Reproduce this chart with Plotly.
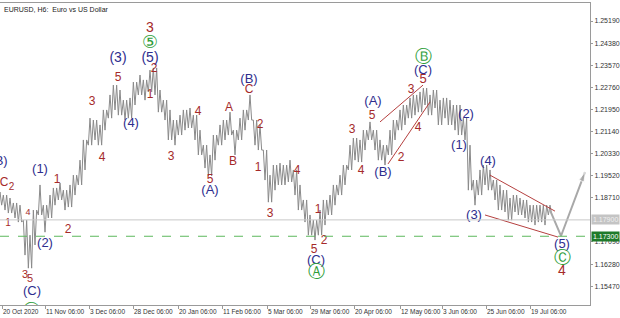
import plotly.graph_objects as go

# ---------------- data ----------------
tick_pos = [0.4, 9.0, 17.8, 26.6, 35.6, 44.4, 53.4, 62.0, 70.8, 80.0, 88.4, 97.2, 106.0]
tick_labels = ["20 Oct 2020", "11 Nov 06:00", "3 Dec 06:00", "28 Dec 06:00", "20 Jan 06:00",
               "11 Feb 06:00", "5 Mar 06:00", "29 Mar 06:00", "20 Apr 06:00", "12 May 06:00",
               "3 Jun 06:00", "25 Jun 06:00", "19 Jul 06:00"]
price_ticks = [1.25190, 1.24380, 1.23570, 1.22760, 1.21950, 1.21140, 1.20330, 1.19520,
               1.18710, 1.17090, 1.16280, 1.15470]

highs = [1.1892, 1.1881, 1.1870, 1.1852, 1.1844, 1.1789, 1.1734, 1.1826, 1.1918, 1.1844,
         1.1881, 1.1907, 1.1925, 1.1899, 1.1918, 1.1954, 1.2009, 1.2083, 1.2163, 1.2156,
         1.2138, 1.2193, 1.2248, 1.2284, 1.2266, 1.2229, 1.2237, 1.2295, 1.2321, 1.2303,
         1.2339, 1.2347, 1.2266, 1.2229, 1.2193, 1.2156, 1.2174, 1.2193, 1.2200, 1.2174,
         1.2119, 1.2064, 1.2028, 1.2101, 1.2138, 1.2156, 1.2185, 1.2119, 1.2163, 1.2193,
         1.2248, 1.2156, 1.2138, 1.2046, 1.1954, 1.1991, 1.1998, 1.1991, 1.2009, 1.1973,
         1.1918, 1.1863, 1.1808, 1.1789, 1.1826, 1.1863, 1.1881, 1.1918, 1.1954, 1.1991,
         1.2064, 1.2090, 1.2083, 1.2119, 1.2149, 1.2119, 1.2083, 1.2064, 1.2119, 1.2156,
         1.2193, 1.2211, 1.2237, 1.2248, 1.2259, 1.2273, 1.2248, 1.2266, 1.2229, 1.2237,
         1.2229, 1.2211, 1.2211, 1.2163, 1.2064, 1.1936, 1.1973, 1.1991, 1.1973, 1.1936,
         1.1918, 1.1899, 1.1870, 1.1881, 1.1870, 1.1863, 1.1844, 1.1844, 1.1844, 1.1844,
         1.1844]
lows = [1.1844, 1.1826, 1.1815, 1.1797, 1.1782, 1.1661, 1.1613, 1.1698, 1.1808, 1.1745,
        1.1797, 1.1844, 1.1863, 1.1826, 1.1837, 1.1881, 1.1918, 1.1973, 1.2064, 1.2083,
        1.2064, 1.2119, 1.2163, 1.2193, 1.2174, 1.2156, 1.2163, 1.2211, 1.2248, 1.2229,
        1.2259, 1.2248, 1.2185, 1.2156, 1.2083, 1.2064, 1.2101, 1.2119, 1.2127, 1.2083,
        1.2028, 1.1980, 1.1951, 1.2009, 1.2064, 1.2083, 1.2101, 1.2028, 1.2083, 1.2119,
        1.2156, 1.2064, 1.2046, 1.1936, 1.1855, 1.1899, 1.1918, 1.1918, 1.1929, 1.1881,
        1.1826, 1.1782, 1.1734, 1.1716, 1.1734, 1.1771, 1.1808, 1.1844, 1.1881, 1.1918,
        1.1973, 1.2009, 1.2002, 1.2046, 1.2083, 1.2046, 1.2009, 1.1991, 1.2028, 1.2083,
        1.2119, 1.2138, 1.2163, 1.2174, 1.2185, 1.2211, 1.2174, 1.2200, 1.2138, 1.2163,
        1.2138, 1.2119, 1.2101, 1.2083, 1.1899, 1.1844, 1.1881, 1.1918, 1.1899, 1.1863,
        1.1826, 1.1819, 1.1789, 1.1819, 1.1808, 1.1797, 1.1782, 1.1771, 1.1782, 1.1771,
        1.1808]

bid_level = 1.17900
target_level = 1.17300

# channel / wedge lines (bar-group index, price)
channel_upper_x = [76.0, 84.6]
channel_upper_y = [1.2149, 1.2284]
channel_lower_x = [77.6, 86.0]
channel_lower_y = [1.1995, 1.2222]
wedge_upper_x = [98.0, 111.0]
wedge_upper_y = [1.1954, 1.1822]
wedge_lower_x = [97.0, 111.6]
wedge_lower_y = [1.1808, 1.1727]
forecast_x = [110.0, 112.2, 117.0]
forecast_y = [1.1826, 1.1731, 1.1965]

# wave labels: text, colour group, index, price, size
labels = [
    ("(B)", "b", -0.2, 1.2002, 13), ("C", "r", 0.8, 1.1925, 12), ("2", "r", 2.3, 1.1908, 10),
    ("1", "r", 1.6, 1.1775, 10), ("4", "r", 5.6, 1.1815, 9), ("(1)", "b", 8.0, 1.1973, 13),
    ("1", "r", 11.4, 1.1936, 12), ("(2)", "b", 9.0, 1.1701, 13), ("2", "r", 13.6, 1.1753, 12),
    ("3", "r", 5.0, 1.1588, 11), ("5", "r", 6.0, 1.1573, 11), ("(C)", "b", 6.4, 1.1525, 13),
    ("Ⓐ", "g", 6.2, 1.1452, 17), ("3", "r", 18.4, 1.2222, 12), ("4", "r", 20.4, 1.2017, 12),
    ("5", "r", 23.6, 1.2310, 12), ("(3)", "b", 23.6, 1.2383, 14), ("(4)", "b", 26.2, 1.2141, 13),
    ("3", "r", 30.0, 1.2493, 14), ("⑤", "g", 30.0, 1.2438, 18), ("(5)", "b", 30.0, 1.2383, 14),
    ("2", "r", 30.8, 1.2343, 12), ("1", "r", 30.0, 1.2248, 12), ("3", "r", 34.2, 1.2020, 12),
    ("4", "r", 39.6, 1.2185, 12), ("5", "r", 42.0, 1.1936, 12), ("(A)", "b", 42.0, 1.1896, 13),
    ("A", "r", 45.8, 1.2200, 12), ("B", "r", 46.6, 1.2002, 12), ("(B)", "b", 49.8, 1.2303, 13),
    ("C", "r", 49.8, 1.2266, 12), ("2", "r", 52.0, 1.2138, 12), ("1", "r", 51.6, 1.1980, 12),
    ("3", "r", 54.0, 1.1811, 12), ("4", "r", 59.4, 1.1969, 12), ("5", "r", 62.8, 1.1679, 12),
    ("2", "r", 64.8, 1.1712, 12), ("1", "r", 63.6, 1.1826, 12), ("(C)", "b", 63.2, 1.1639, 13),
    ("Ⓐ", "g", 63.2, 1.1595, 17), ("3", "r", 70.4, 1.2119, 12), ("4", "r", 72.2, 1.1969, 12),
    ("5", "r", 74.4, 1.2171, 12), ("(A)", "b", 74.6, 1.2222, 13), ("(B)", "b", 76.6, 1.1962, 13),
    ("2", "r", 80.2, 1.2017, 12), ("3", "r", 82.2, 1.2266, 12), ("5", "r", 84.6, 1.2303, 13),
    ("(C)", "b", 84.6, 1.2336, 13), ("Ⓑ", "g", 84.6, 1.2383, 17), ("4", "r", 83.6, 1.2127, 12),
    ("(2)", "b", 93.2, 1.2174, 13), ("(1)", "b", 91.8, 1.2061, 13), ("(4)", "b", 97.6, 1.2002, 13),
    ("(3)", "b", 94.8, 1.1804, 13), ("(5)", "b", 112.4, 1.1698, 13), ("Ⓒ", "g", 112.4, 1.1646, 17),
    ("4", "r", 112.4, 1.1602, 14),
]

# ---------------- figure ----------------
RED = "#a52a2a"
BLUE = "#2e2e8e"
GREEN = "#2f9e3a"
colors = {"r": RED, "b": BLUE, "g": GREEN}
FONT = "Liberation Sans, Arial"

# bar-like path: each bar group drawn as strokes between its low and high
px, py = [], []
for i, (h, l) in enumerate(zip(highs, lows)):
    px += [i - 0.33, i, i + 0.33]
    py += [l, h, l] if i % 2 == 0 else [h, l, h]

fig = go.Figure()

fig.add_hline(y=bid_level, line=dict(color="#c8c8c8", width=1))
fig.add_hline(y=target_level, line=dict(color="#5cb85c", width=1, dash="dash"))

fig.add_trace(go.Scatter(x=px, y=py, mode="lines", line=dict(color="#8a8a8a", width=1),
                         hoverinfo="skip", showlegend=False))

for xs, ys in [(channel_upper_x, channel_upper_y), (channel_lower_x, channel_lower_y),
               (wedge_upper_x, wedge_upper_y), (wedge_lower_x, wedge_lower_y)]:
    fig.add_trace(go.Scatter(x=xs, y=ys, mode="lines", line=dict(color="#b5403f", width=1),
                             showlegend=False, hoverinfo="skip"))

fig.add_trace(go.Scatter(x=forecast_x, y=forecast_y, mode="lines+markers",
                         line=dict(color="#a8a8a8", width=2),
                         marker=dict(symbol="arrow", angleref="previous", size=[0, 0, 10],
                                     color="#a8a8a8"),
                         showlegend=False, hoverinfo="skip"))

for key in ["r", "b", "g"]:
    sel = [lb for lb in labels if lb[1] == key]
    fig.add_trace(go.Scatter(
        x=[s[2] for s in sel], y=[s[3] for s in sel], text=[s[0] for s in sel],
        mode="text", cliponaxis=True,
        textfont=dict(color=colors[key], size=[s[4] for s in sel],
                      family="DejaVu Sans" if key == "g" else FONT),
        showlegend=False, hoverinfo="skip"))

fig.add_annotation(text="EURUSD, H6:  Euro vs US Dollar", xref="paper", yref="paper",
                   x=0.003, y=0.998, xanchor="left", yanchor="top", showarrow=False,
                   font=dict(size=7, color="#222", family=FONT))

fig.add_annotation(text="1.17900", xref="paper", yref="y", x=1, y=bid_level, xanchor="left",
                   xshift=1, showarrow=False, bgcolor="#c4c4c4", borderpad=1,
                   font=dict(size=7, color="#f0f0f0", family=FONT))
fig.add_annotation(text="1.17300", xref="paper", yref="y", x=1, y=target_level, xanchor="left",
                   xshift=1, showarrow=False, bgcolor="#1f7a2a", borderpad=1,
                   font=dict(size=7, color="white", family=FONT))

fig.update_layout(
    width=620, height=318, margin=dict(l=0, r=30, t=3, b=13),
    paper_bgcolor="white", plot_bgcolor="white",
    xaxis=dict(range=[0, 118], tickvals=tick_pos, ticktext=tick_labels, showgrid=False,
               zeroline=False, showline=True, linecolor="#9a9a9a", mirror=True,
               tickangle=0, automargin=False, ticklabelposition="outside right",
               ticks="outside", ticklen=3, tickcolor="#9a9a9a",
               tickfont=dict(size=6.5, color="#333", family=FONT), fixedrange=True),
    yaxis=dict(range=[1.1478, 1.2585], side="right", tickvals=price_ticks,
               ticktext=[f"{v:.5f}" for v in price_ticks], showgrid=False, zeroline=False,
               showline=True, linecolor="#9a9a9a", ticks="outside", ticklen=2,
               tickcolor="#9a9a9a", automargin=False,
               tickfont=dict(size=7, color="#333", family=FONT)),
)

fig.write_html("out.html")
